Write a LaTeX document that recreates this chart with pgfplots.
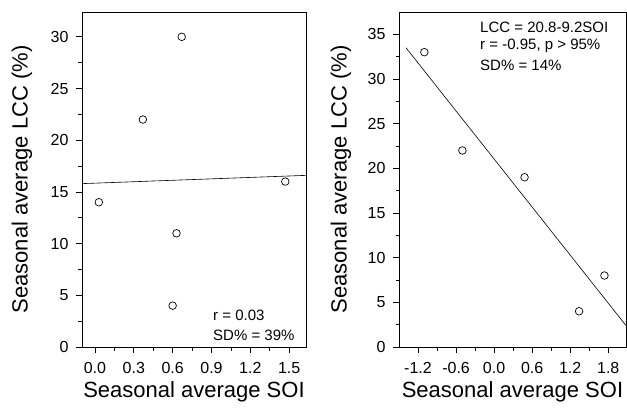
\documentclass[border=0pt]{standalone}
\usepackage{fontspec}
\setmainfont{Liberation Sans}
\usepackage{pgfplots}
\pgfplotsset{compat=1.18}
\pgfplotsset{
  every tick label/.append style={font=\fontsize{16}{18}\selectfont},
  every x tick label/.append style={yshift=-6pt},
  every y tick label/.append style={xshift=-4pt},
  panel/.style={
    scale only axis, height=335pt,
    axis line style={line width=0.9pt},
    tick align=outside, tick pos=left,
    major tick length=6pt, minor tick length=3.5pt,
    every tick/.style={black, line width=0.8pt},
    label style={font=\fontsize{22}{26}\selectfont},
    xlabel={Seasonal average SOI},
    ylabel={Seasonal average LCC (\%)},
    minor x tick num=1, minor y tick num=1,
    ymin=0,
    xlabel style={at={(axis description cs:0.5,-0.135)}, anchor=center},
  },
  pts/.style={only marks, mark=o, mark size=3.8pt, black, mark options={line width=0.7pt}},
  fit/.style={black, line width=0.6pt},
}
\tikzset{note/.style={anchor=west, font=\fontsize{15}{18}\selectfont, inner sep=0pt}}
\begin{document}
\begin{tikzpicture}[x=1pt,y=1pt]
\useasboundingbox (0,0) rectangle (627,410);

% left panel
\begin{axis}[panel, at={(82pt,63pt)}, anchor=south west, width=224pt,
  xmin=-0.1, xmax=1.63, ymax=32.4,
  xtick={0,0.3,0.6,0.9,1.2,1.5}, xticklabels={0.0,0.3,0.6,0.9,1.2,1.5},
  ytick={0,5,10,15,20,25,30}, yticklabels={0,5,10,15,20,25,30},
  ylabel style={at={(axis description cs:-0.268,0.5)}, anchor=center}]
\addplot[fit] coordinates {(-0.1,15.8) (1.63,16.6)};
\addplot[pts] coordinates {(0.03,14) (0.37,22) (0.67,30) (0.63,11) (0.60,4) (1.47,16)};
\node[note] at (axis description cs:0.585,0.096) {r = 0.03};
\node[note] at (axis description cs:0.585,0.036) {SD\% = 39\%};
\end{axis}

% right panel
\begin{axis}[panel, at={(399pt,63pt)}, anchor=south west, width=227pt,
  xmin=-1.5, xmax=2.08, ymax=37.5,
  xtick={-1.2,-0.6,0,0.6,1.2,1.8}, xticklabels={-1.2,-0.6,0.0,0.6,1.2,1.8},
  ytick={0,5,10,15,20,25,30,35}, yticklabels={0,5,10,15,20,25,30,35},
  ylabel style={at={(axis description cs:-0.256,0.5)}, anchor=center}]
\addplot[fit] coordinates {(-1.39,33.5) (2.08,2.4)};
\addplot[pts] coordinates {(-1.1,33) (-0.5,22) (0.48,19) (1.34,4) (1.74,8)};
\node[note] at (axis description cs:0.357,0.953) {LCC = 20.8-9.2SOI};
\node[note] at (axis description cs:0.357,0.899) {r = -0.95, p > 95\%};
\node[note] at (axis description cs:0.357,0.842) {SD\% = 14\%};
\end{axis}
\end{tikzpicture}
\end{document}
